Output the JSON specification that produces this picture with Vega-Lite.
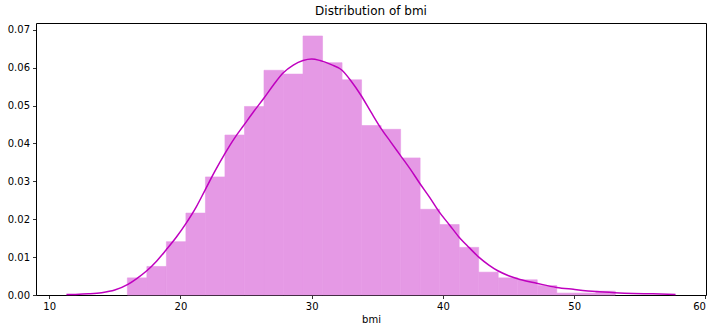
{
  "$schema": "https://vega.github.io/schema/vega-lite/v6.json",
  "autosize": "none",
  "width": 670,
  "height": 272,
  "padding": {"left": 36, "top": 23, "right": 12, "bottom": 38},
  "background": "white",
  "title": {"text": "Distribution of bmi", "fontSize": 12, "fontWeight": "normal", "font": "DejaVu Sans", "color": "black", "offset": 5},
  "config": {
    "view": {"stroke": "black", "strokeWidth": 1},
    "axis": {
      "grid": false, "domain": false, "tickColor": "black", "tickSize": 3.5, "tickWidth": 0.8,
      "labelFont": "DejaVu Sans", "labelFontSize": 10, "labelColor": "black", "labelPadding": 3,
      "labelOverlap": false, "labelBound": false, "labelSeparation": 0,
      "titleFont": "DejaVu Sans", "titleFontSize": 10, "titleFontWeight": "normal", "titleColor": "black"
    }
  },
  "datasets": {
    "bins": [
      {"start": 15.96, "end": 17.447, "density": 0.00452},
      {"start": 17.447, "end": 18.934, "density": 0.00754},
      {"start": 18.934, "end": 20.420, "density": 0.01408},
      {"start": 20.420, "end": 21.907, "density": 0.02162},
      {"start": 21.907, "end": 23.394, "density": 0.03117},
      {"start": 23.394, "end": 24.881, "density": 0.04223},
      {"start": 24.881, "end": 26.368, "density": 0.04977},
      {"start": 26.368, "end": 27.855, "density": 0.05932},
      {"start": 27.855, "end": 29.341, "density": 0.05831},
      {"start": 29.341, "end": 30.828, "density": 0.06837},
      {"start": 30.828, "end": 32.315, "density": 0.06133},
      {"start": 32.315, "end": 33.802, "density": 0.05680},
      {"start": 33.802, "end": 35.289, "density": 0.04474},
      {"start": 35.289, "end": 36.776, "density": 0.04373},
      {"start": 36.776, "end": 38.262, "density": 0.03619},
      {"start": 38.262, "end": 39.749, "density": 0.02262},
      {"start": 39.749, "end": 41.236, "density": 0.01860},
      {"start": 41.236, "end": 42.723, "density": 0.01257},
      {"start": 42.723, "end": 44.210, "density": 0.00603},
      {"start": 44.210, "end": 45.697, "density": 0.00452},
      {"start": 45.697, "end": 47.183, "density": 0.00402},
      {"start": 47.183, "end": 48.670, "density": 0.00251},
      {"start": 48.670, "end": 50.157, "density": 0.00050},
      {"start": 50.157, "end": 51.644, "density": 0.00050},
      {"start": 51.644, "end": 53.13, "density": 0.00101}
    ],
    "kde": [
      {"bmi": 11.32, "density": 0.0001},
      {"bmi": 12.0, "density": 0.00015},
      {"bmi": 13.0, "density": 0.0003},
      {"bmi": 14.0, "density": 0.0006},
      {"bmi": 15.0, "density": 0.0013},
      {"bmi": 16.0, "density": 0.0028},
      {"bmi": 16.7, "density": 0.0044},
      {"bmi": 17.44, "density": 0.0064},
      {"bmi": 18.2, "density": 0.0090},
      {"bmi": 18.91, "density": 0.0119},
      {"bmi": 19.7, "density": 0.0153},
      {"bmi": 20.43, "density": 0.0189},
      {"bmi": 21.2, "density": 0.0232},
      {"bmi": 21.88, "density": 0.0277},
      {"bmi": 22.6, "density": 0.0325},
      {"bmi": 23.4, "density": 0.0374},
      {"bmi": 24.1, "density": 0.0413},
      {"bmi": 24.85, "density": 0.0449},
      {"bmi": 25.6, "density": 0.0485},
      {"bmi": 26.37, "density": 0.0520},
      {"bmi": 27.1, "density": 0.0555},
      {"bmi": 27.82, "density": 0.0586},
      {"bmi": 28.6, "density": 0.0607},
      {"bmi": 29.34, "density": 0.0619},
      {"bmi": 30.0, "density": 0.0623},
      {"bmi": 30.64, "density": 0.0619},
      {"bmi": 31.5, "density": 0.0608},
      {"bmi": 32.29, "density": 0.0594},
      {"bmi": 33.0, "density": 0.0565},
      {"bmi": 33.74, "density": 0.0528},
      {"bmi": 34.5, "density": 0.0484},
      {"bmi": 35.28, "density": 0.0440},
      {"bmi": 36.0, "density": 0.0405},
      {"bmi": 36.73, "density": 0.0370},
      {"bmi": 37.5, "density": 0.0333},
      {"bmi": 38.23, "density": 0.0295},
      {"bmi": 39.0, "density": 0.0257},
      {"bmi": 39.7, "density": 0.0220},
      {"bmi": 40.5, "density": 0.0185},
      {"bmi": 41.2, "density": 0.0154},
      {"bmi": 42.0, "density": 0.0125},
      {"bmi": 42.73, "density": 0.0100},
      {"bmi": 43.5, "density": 0.0079},
      {"bmi": 44.18, "density": 0.0064},
      {"bmi": 45.0, "density": 0.0051},
      {"bmi": 45.87, "density": 0.0041},
      {"bmi": 47.14, "density": 0.0031},
      {"bmi": 48.66, "density": 0.0020},
      {"bmi": 49.93, "density": 0.0015},
      {"bmi": 51.66, "density": 0.0009},
      {"bmi": 53.1, "density": 0.0006},
      {"bmi": 54.5, "density": 0.0004},
      {"bmi": 56.0, "density": 0.0003},
      {"bmi": 57.72, "density": 0.0001}
    ]
  },
  "encoding": {
    "y": {"field": "density", "type": "quantitative", "scale": {"domain": [0, 0.0718], "nice": false},
          "axis": {"values": [0, 0.01, 0.02, 0.03, 0.04, 0.05, 0.06, 0.07], "format": ".2f", "title": null, "labelOverlap": false}}
  },
  "layer": [
    {
      "data": {"name": "bins"},
      "mark": {"type": "rect", "color": "#e599e5", "stroke": "#e599e5", "strokeWidth": 0.6},
      "encoding": {
        "x": {"field": "start", "type": "quantitative", "scale": {"domain": [9.0, 60.04], "nice": false, "zero": false},
              "axis": {"values": [10, 20, 30, 40, 50, 60], "title": "bmi", "titlePadding": 3, "labelOverlap": false}},
        "x2": {"field": "end"},
        "y2": {"datum": 0}
      }
    },
    {
      "data": {"name": "kde"},
      "mark": {"type": "line", "color": "#bf00bf", "strokeWidth": 1.5, "interpolate": "monotone"},
      "encoding": {
        "x": {"field": "bmi", "type": "quantitative"}
      }
    }
  ]
}
